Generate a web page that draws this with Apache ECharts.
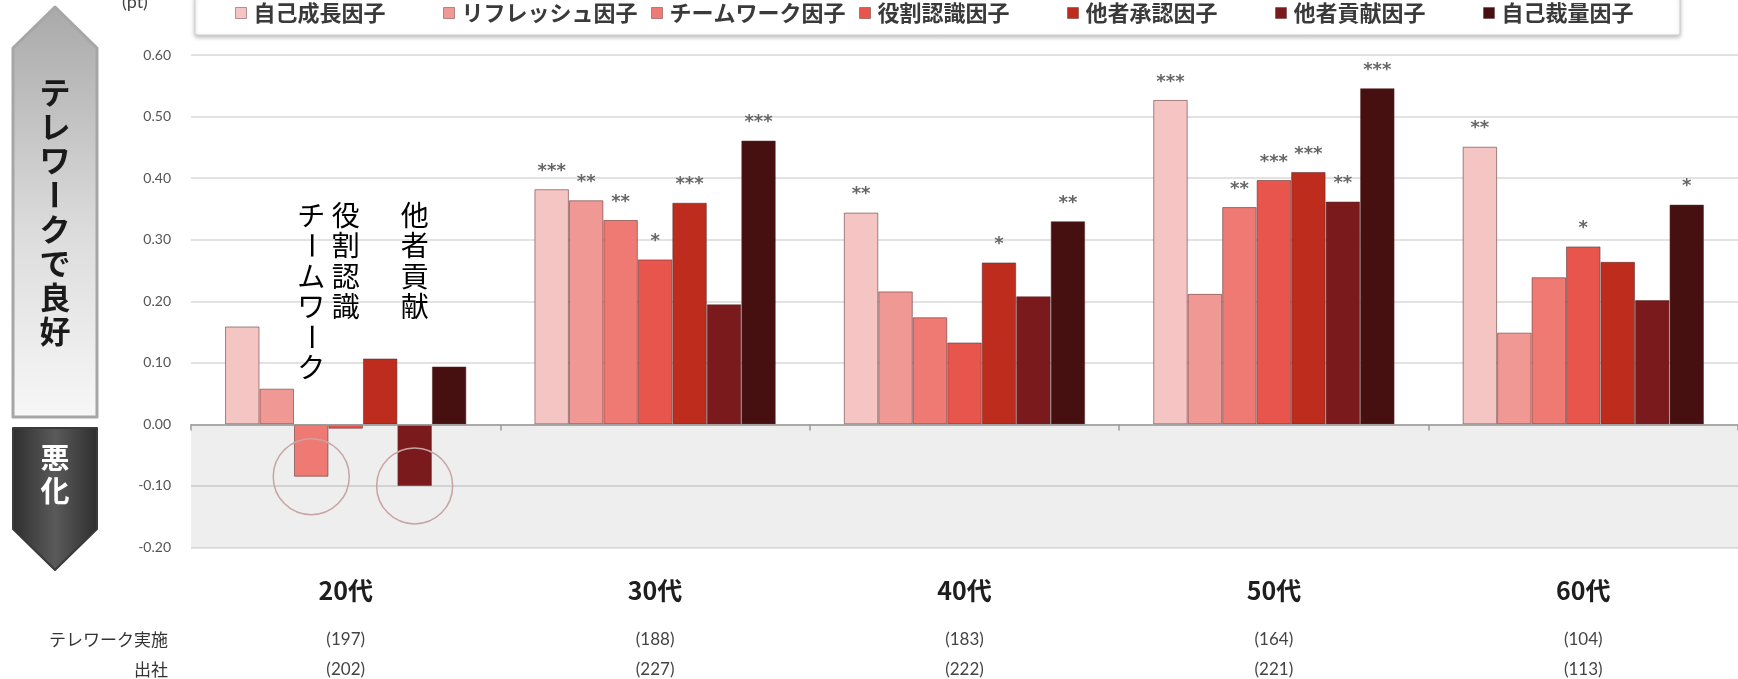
<!DOCTYPE html>
<html>
<head>
<meta charset="utf-8">
<script src="https://cdn.jsdelivr.net/npm/echarts@6/dist/echarts.min.js"></script>
<style>
html,body{margin:0;padding:0;background:#fff;}
#main{width:1738px;height:679px;}
</style>
</head>
<body>
<div id="main"></div>
<script>
// ---------- data ----------
const categories = ['20代', '30代', '40代', '50代', '60代'];
const teleworkCounts = ['(197)', '(188)', '(183)', '(164)', '(104)'];
const officeCounts = ['(202)', '(227)', '(222)', '(221)', '(113)'];
const seriesNames = ['自己成長因子', 'リフレッシュ因子', 'チームワーク因子', '役割認識因子', '他者承認因子', '他者貢献因子', '自己裁量因子'];

const selfGrowth   = [0.159, 0.382, 0.344, 0.527, 0.451];
const refresh      = [0.058, 0.364, 0.216, 0.212, 0.149];
const teamwork     = [-0.085, 0.332, 0.174, 0.353, 0.239];
const roleAware    = [-0.007, 0.268, 0.133, 0.397, 0.289];
const othersApprov = [0.107, 0.360, 0.263, 0.410, 0.264];
const othersContr  = [-0.100, 0.195, 0.208, 0.362, 0.202];
const selfDiscr    = [0.094, 0.461, 0.330, 0.546, 0.357];

const starsSelfGrowth   = ['', '***', '**', '***', '**'];
const starsRefresh      = ['', '**', '', '', ''];
const starsTeamwork     = ['', '**', '', '**', ''];
const starsRoleAware    = ['', '*', '', '***', '*'];
const starsOthersApprov = ['', '***', '*', '***', ''];
const starsOthersContr  = ['', '', '', '**', ''];
const starsSelfDiscr    = ['', '***', '**', '***', '*'];

const yMin = -0.2, yMax = 0.6, yStep = 0.1;
const rowLabels = ['テレワーク実施', '出社'];
const upArrowText = 'テレワークで良好';
const downArrowText = '悪化';
const unitText = '(pt)';
// annotations: which series / category is highlighted
const annotations = [
  { series: 2, category: 0, text: 'チームワーク', circle: true },
  { series: 3, category: 0, text: '役割認識', circle: false },
  { series: 5, category: 0, text: '他者貢献', circle: true }
];

// ---------- styles ----------
const seriesValues = [selfGrowth, refresh, teamwork, roleAware, othersApprov, othersContr, selfDiscr];
const seriesStars = [starsSelfGrowth, starsRefresh, starsTeamwork, starsRoleAware, starsOthersApprov, starsOthersContr, starsSelfDiscr];
const colors = ['#f5c5c4', '#f09894', '#ee7a73', '#e8554c', '#bd2c1c', '#7b1a1d', '#460f10'];
const JP = '"Noto Sans CJK JP", "Noto Sans", sans-serif';
const NUM = 'Lato, "DejaVu Sans", sans-serif';
const barGapRatio = 0.22;
const legendStart = 235, legendStep = 208;

const chart = echarts.init(document.getElementById('main'), null, { renderer: 'canvas' });

const series = seriesNames.map((name, i) => {
  const s = {
    name: name,
    type: 'bar',
    xAxisIndex: 0,
    yAxisIndex: 0,
    data: seriesValues[i],
    barGap: '0%',
    barCategoryGap: (barGapRatio * 100) + '%',
    itemStyle: { color: colors[i], borderColor: 'rgba(90,45,45,0.55)', borderWidth: 1 },
    label: {
      show: true,
      position: 'top',
      distance: 9,
      formatter: p => seriesStars[i][p.dataIndex],
      fontSize: 18,
      fontWeight: 'bold',
      color: '#666',
      fontFamily: 'DejaVu Sans'
    },
    emphasis: { disabled: true }
  };
  const marks = annotations.filter(a => a.series === i && a.circle);
  if (marks.length) {
    s.markPoint = {
      silent: true,
      symbol: 'circle',
      symbolSize: 76,
      itemStyle: { color: 'rgba(0,0,0,0)', borderColor: '#c9a3a3', borderWidth: 1.5 },
      label: { show: false },
      data: marks.map(a => ({ coord: [a.category, seriesValues[i][a.category]] }))
    };
  }
  if (i === 0) {
    s.markArea = {
      silent: true,
      itemStyle: { color: 'rgba(0,0,0,0.065)' },
      data: [[{ yAxis: yMin }, { yAxis: 0 }]]
    };
  }
  return s;
});

// one legend per item so that items are evenly spaced like the reference
const legends = seriesNames.map((name, k) => ({
  data: [name],
  left: legendStart + k * legendStep,
  top: 2,
  padding: 0,
  itemGap: 0,
  itemWidth: 11,
  itemHeight: 11,
  icon: 'rect',
  selectedMode: false,
  z: 10,
  itemStyle: { borderColor: 'rgba(90,45,45,0.45)', borderWidth: 1 },
  textStyle: { fontFamily: JP, fontSize: 22, color: '#3a3a3a', fontWeight: 'bold', padding: [0, 0, 0, 2] }
}));

chart.setOption({
  animation: false,
  backgroundColor: '#ffffff',
  legend: legends,
  grid: { left: 191, right: -4, top: 55, bottom: 131.5, containLabel: false },
  xAxis: [
    {
      type: 'category',
      data: categories,
      position: 'bottom',
      axisLine: { show: true, onZero: true, lineStyle: { color: '#9a9a9a', width: 1.5 } },
      axisTick: { show: true, length: 6, lineStyle: { color: '#9a9a9a', width: 1.5 } },
      axisLabel: { show: false },
      splitLine: { show: false },
      z: 3
    },
    {
      type: 'category',
      data: categories,
      position: 'bottom',
      axisLine: { show: false, onZero: false },
      axisTick: { show: false },
      splitLine: { show: false },
      axisLabel: {
        margin: 8,
        formatter: (v, idx) => '{a|' + v + '}\n{b|' + teleworkCounts[idx] + '}\n{c|' + officeCounts[idx] + '}',
        rich: {
          a: { fontFamily: JP, fontWeight: 'bold', fontSize: 25, color: '#1e1e1e', lineHeight: 70 },
          b: { fontFamily: NUM, fontSize: 17, color: '#444', lineHeight: 28 },
          c: { fontFamily: NUM, fontSize: 17, color: '#444', lineHeight: 32 }
        }
      }
    }
  ],
  yAxis: {
    type: 'value',
    min: yMin,
    max: yMax,
    interval: yStep,
    axisLine: { show: false },
    axisTick: { show: false },
    axisLabel: {
      margin: 20,
      formatter: v => v.toFixed(2),
      fontFamily: NUM,
      fontSize: 14,
      color: '#555'
    },
    splitLine: { show: true, lineStyle: { color: '#e2e2e2', width: 2 } }
  },
  series: series
});

// ---------- decorations computed from the scales ----------
function verticalText(text, cx, yTop, step, font, fill) {
  const els = [];
  Array.from(text).forEach((ch, k) => {
    const rot = ch === 'ー' ? -Math.PI / 2 : 0;
    els.push({
      type: 'text',
      x: cx,
      y: yTop + step * k + step / 2,
      rotation: rot,
      silent: true,
      z: 100,
      style: { text: ch, font: font, fill: fill, align: 'center', verticalAlign: 'middle', textAlign: 'center', textVerticalAlign: 'middle' }
    });
  });
  return els;
}

const p0 = chart.convertToPixel({ xAxisIndex: 0, yAxisIndex: 0 }, [0, 0]);
const p1 = chart.convertToPixel({ xAxisIndex: 0, yAxisIndex: 0 }, [1, 0]);
const band = p1[0] - p0[0];
const barW = band * (1 - barGapRatio) / seriesNames.length;
const annotationTop = chart.convertToPixel({ yAxisIndex: 0 }, 0.365);

const graphics = [];
// legend frame
graphics.push({
  type: 'rect',
  silent: true,
  z: -1,
  shape: { x: 195, y: -6, width: 1485, height: 41, r: 2 },
  style: { fill: '#ffffff', stroke: '#cfcfcf', lineWidth: 1, shadowBlur: 4, shadowColor: 'rgba(0,0,0,0.25)', shadowOffsetY: 2 }
});
// up arrow
graphics.push({
  type: 'polygon',
  silent: true,
  shape: { points: [[55, 7], [97, 48], [97, 417], [13, 417], [13, 48]] },
  style: {
    fill: new echarts.graphic.LinearGradient(0, 0, 0, 1, [
      { offset: 0, color: '#a9a9a9' },
      { offset: 0.55, color: '#dcdcdc' },
      { offset: 1, color: '#f7f7f7' }
    ]),
    stroke: '#a6a6a6',
    lineWidth: 3,
    lineJoin: 'round'
  }
});
graphics.push(...verticalText(upArrowText, 55, 75, 34.2, 'bold 31px ' + JP, '#1a1a1a'));
// down arrow
graphics.push({
  type: 'polygon',
  silent: true,
  shape: { points: [[13, 428], [97, 428], [97, 529], [55, 570], [13, 529]] },
  style: {
    fill: new echarts.graphic.LinearGradient(0, 0, 1, 0, [
      { offset: 0, color: '#2e2e2e' },
      { offset: 0.5, color: '#5a5a5a' },
      { offset: 1, color: '#2e2e2e' }
    ]),
    stroke: '#3a3a3a',
    lineWidth: 2,
    lineJoin: 'round'
  }
});
graphics.push(...verticalText(downArrowText, 55, 441, 33, 'bold 29px ' + JP, '#ffffff'));
// unit
graphics.push({ type: 'text', x: 122, y: -7, silent: true, style: { text: unitText, font: '18px ' + NUM, fill: '#444' } });
// row labels
const rowY = [640, 670];
rowLabels.forEach((t, k) => {
  graphics.push({ type: 'text', x: 168, y: rowY[k], silent: true,
    style: { text: t, font: '17px ' + JP, fill: '#333', align: 'right', verticalAlign: 'middle', textAlign: 'right', textVerticalAlign: 'middle' } });
});
// annotation texts above highlighted bars
annotations.forEach(a => {
  const c = chart.convertToPixel({ xAxisIndex: 0, yAxisIndex: 0 }, [a.category, 0]);
  const cx = c[0] + (a.series - (seriesNames.length - 1) / 2) * barW;
  graphics.push(...verticalText(a.text, cx, annotationTop, 30.5, '28px ' + JP, '#000'));
});

chart.setOption({ graphic: { elements: graphics } });
</script>
</body>
</html>
